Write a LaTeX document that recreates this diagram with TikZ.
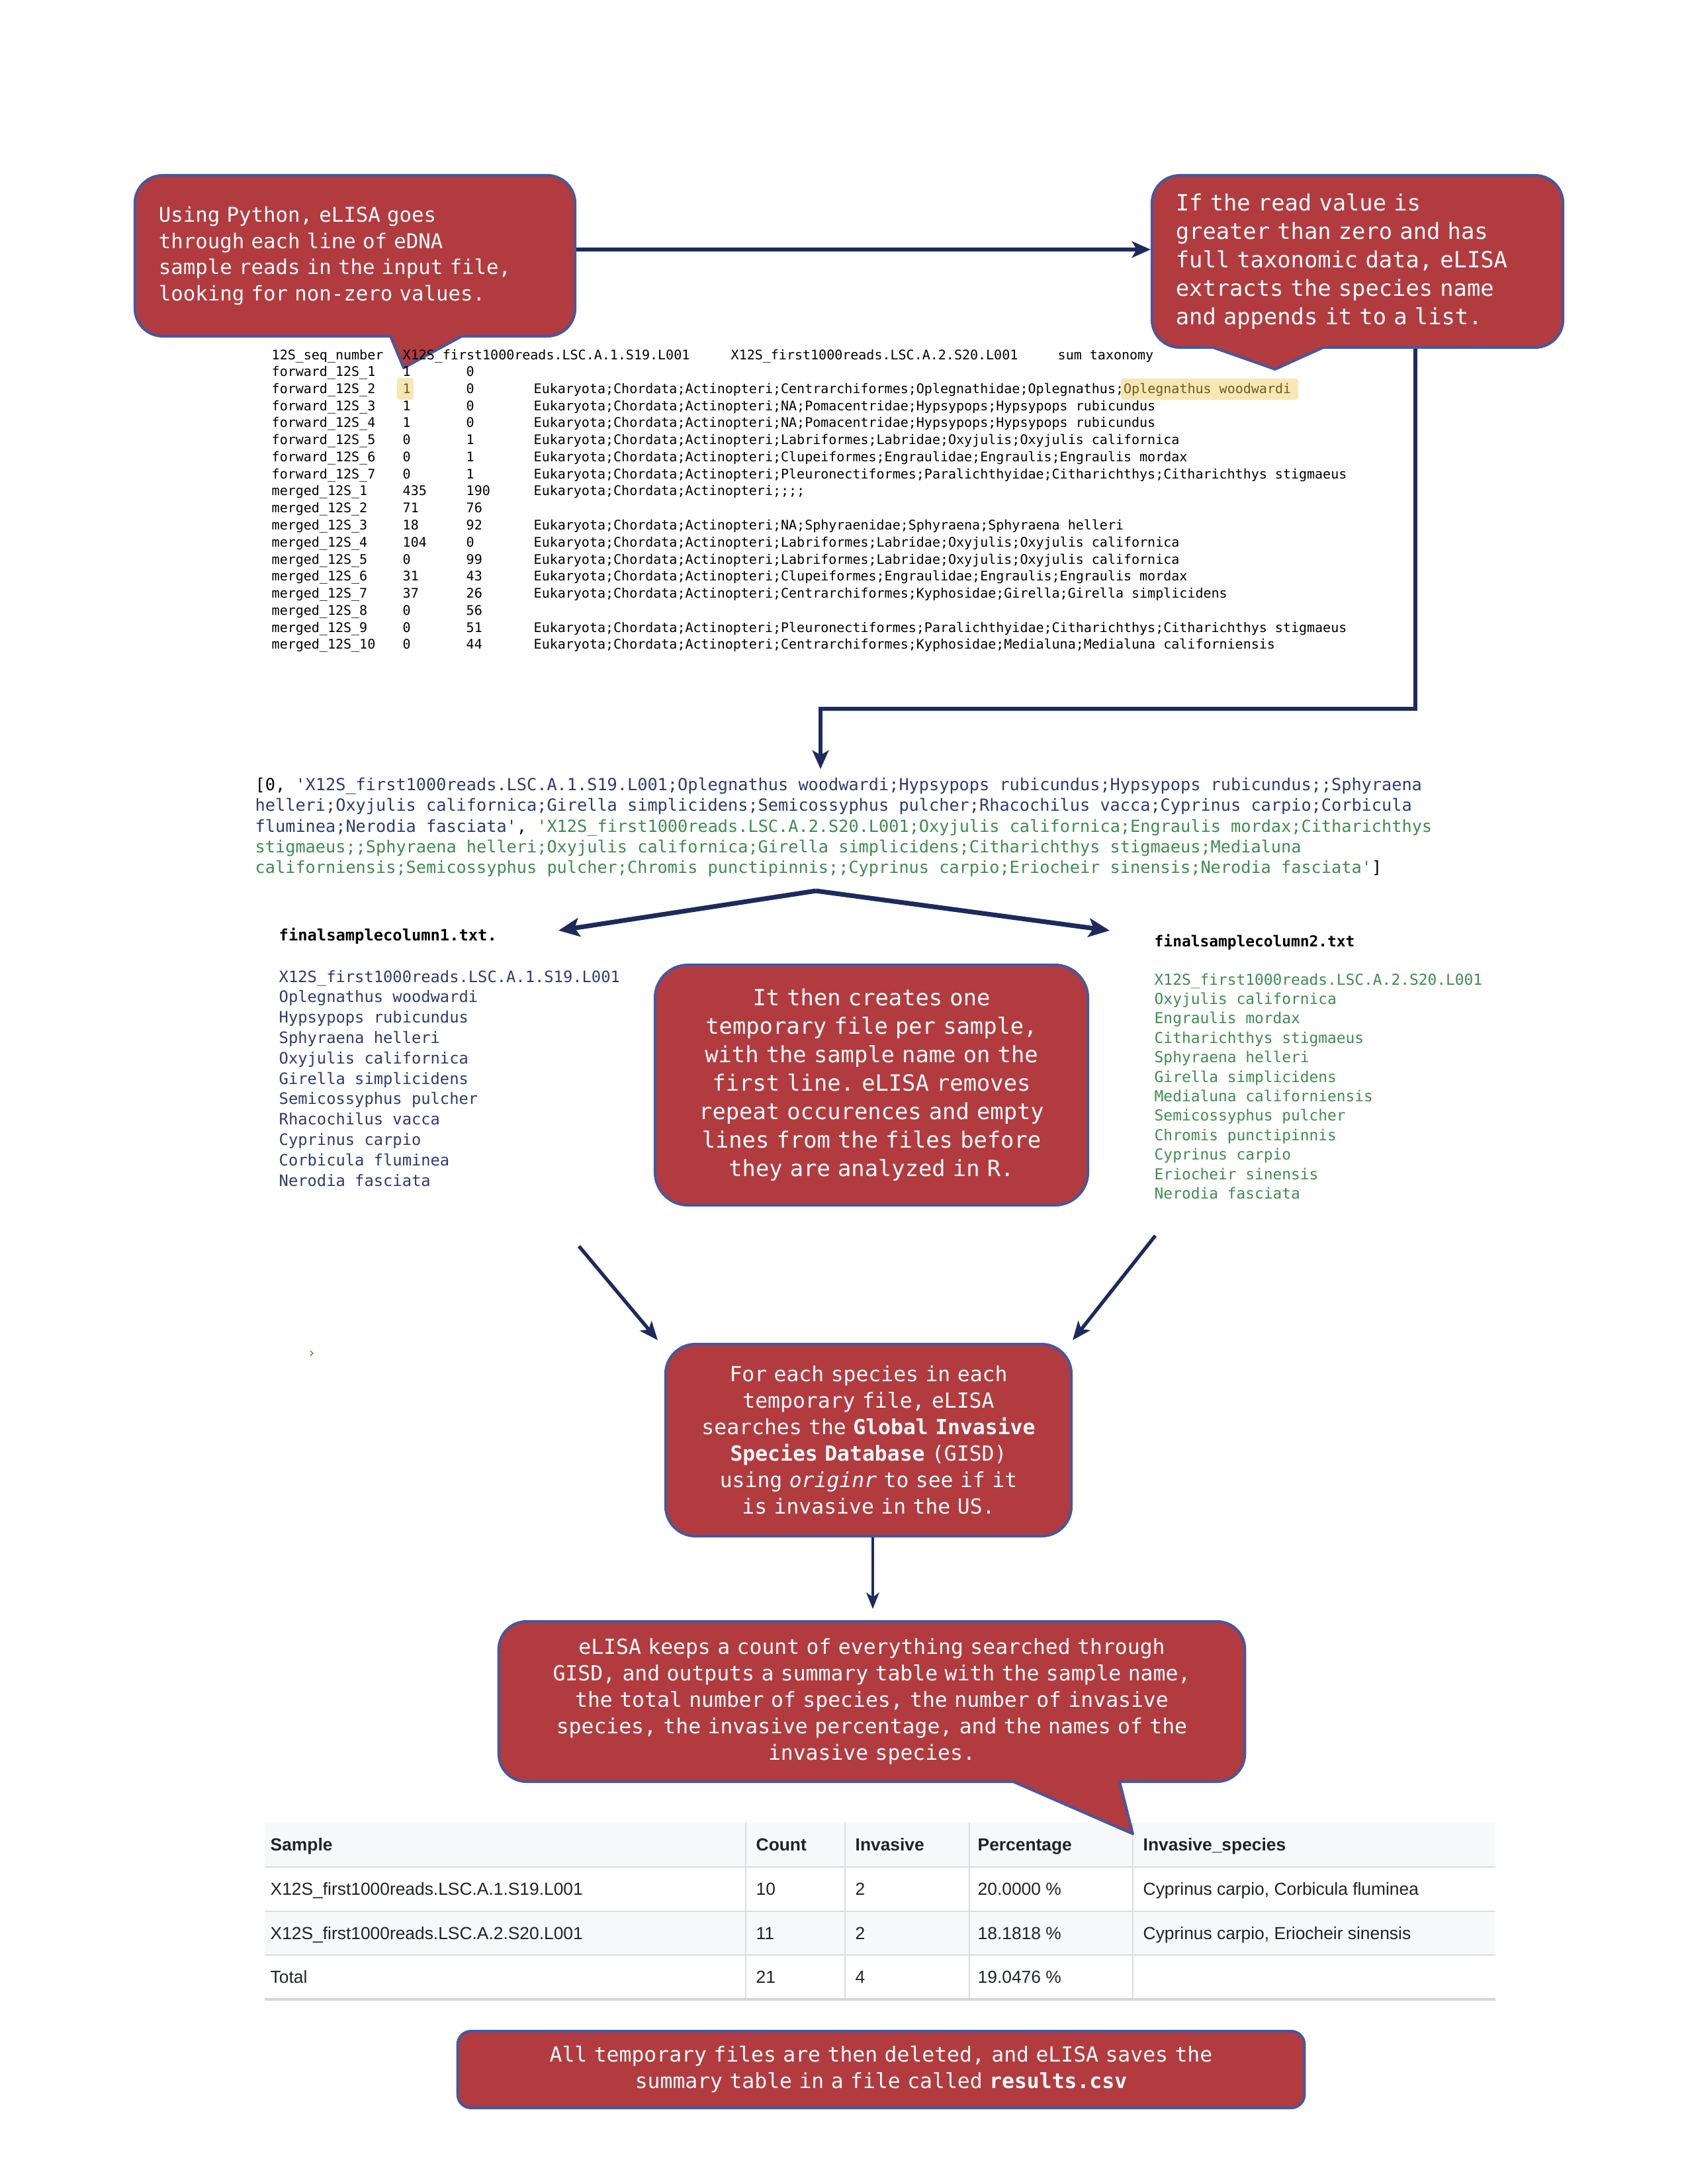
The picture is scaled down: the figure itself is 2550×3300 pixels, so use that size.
\documentclass[tikz,border=0pt]{standalone}
\usepackage{fontspec}
\setmainfont{Liberation Sans}
\newfontfamily\cmono{DejaVu Sans Mono}
\usetikzlibrary{arrows.meta}
\frenchspacing
\font\sqfont="DejaVu Sans Mono" at 7.18pt
\newcommand\sq{{\sqfont\char39}}
\definecolor{cfill}{HTML}{B23B3F}
\definecolor{cborder}{HTML}{4458A0}
\definecolor{connc}{HTML}{1C2A5E}
\definecolor{navytxt}{HTML}{2E3B6F}
\definecolor{greentxt}{HTML}{3E8C50}
\definecolor{hlfill}{HTML}{F8E7B5}
\definecolor{hltxt}{HTML}{6F5A1C}
\definecolor{tblbg}{HTML}{F6F8FA}
\definecolor{tblline}{HTML}{D8DEE4}
\definecolor{tblbot}{HTML}{D0D7DE}
\definecolor{tbltxt}{HTML}{1F2328}
\tikzset{
  callout/.style={fill=cfill, draw=cborder, line width=1.1pt, text=white, inner sep=0pt},
  tailside/.style={draw=cborder, line width=1.1pt, line join=round},
  conn/.style={draw=connc, line width=1.7pt, -{Stealth[length=8pt,width=7pt,inset=2pt]}},
  rawtxt/.style={font=\cmono\fontsize{5.69}{6.8}\selectfont, anchor=base west, inner sep=0pt},
  lsttxt/.style={font=\cmono\fontsize{7.18}{8.9}\selectfont, anchor=base west, inner sep=0pt},
  fileone/.style={font=\cmono\fontsize{6.76}{8}\selectfont, anchor=base west, inner sep=0pt},
  filetwo/.style={font=\cmono\fontsize{6.5}{8}\selectfont, anchor=base west, inner sep=0pt},
  tcell/.style={font=\normalfont\fontsize{7.5}{9}\selectfont, text=tbltxt, anchor=base west, inner sep=0pt},
  thead/.style={tcell, font=\normalfont\bfseries\fontsize{7.5}{9}\selectfont},
}
\begin{document}
\begin{tikzpicture}[x=0.01cm,y=-0.01cm]
\fill[white] (0,0) rectangle (2550,3300);
\useasboundingbox (0,0) rectangle (2550,3300);

% ---------- callout 1 ----------
\node[callout, rounded corners=0.42cm, minimum width=6.65cm, minimum height=2.43cm,
      text width=5.93cm, align=left, font=\cmono\fontsize{8.74}{11.27}\selectfont]
  (b1) at (536.5,386.5)
  {Using Python, eLISA goes\\through each line of eDNA\\sample reads in the input file,\\looking for non-zero values.};
\fill[cfill] (586.7,500) -- (712.7,500) -- (610,556) -- cycle;
\draw[tailside] (590,508) -- (610,556) -- (698,508);

% ---------- callout 2 ----------
\node[callout, rounded corners=0.42cm, minimum width=6.21cm, minimum height=2.60cm,
      text width=5.49cm, align=left, font=\cmono\fontsize{9.6}{12.24}\selectfont]
  (b2) at (2051.5,395)
  {If the read value is\\greater than zero and has\\full taxonomic data, eLISA\\extracts the species name\\and appends it to a list.};
\fill[cfill] (1810,517) -- (2018,517) -- (1927,558) -- cycle;
\draw[tailside] (1833,525) -- (1927,558) -- (2000,525);

% ---------- highlights in input table ----------
\fill[hlfill, rounded corners=0.04cm] (600,571) rectangle (625,604);
\fill[hlfill, rounded corners=0.04cm] (1694,572) rectangle (1962,604);

% ---------- input table ----------
\node[rawtxt] (h0) at (410,543) {12S\_seq\_number};
\node[rawtxt] (h1) at (608,543) {X12S\_first1000reads.LSC.A.1.S19.L001};
\node[rawtxt] (h2) at (1104,543) {X12S\_first1000reads.LSC.A.2.S20.L001};
\node[rawtxt] (h3) at (1598,543) {sum taxonomy};
\foreach \nm/\va/\vb/\tx [count=\i] in {
  forward\_12S\_1/1/0/{},
  forward\_12S\_2/{}/0/{},
  forward\_12S\_3/1/0/Eukaryota;Chordata;Actinopteri;NA;Pomacentridae;Hypsypops;Hypsypops rubicundus,
  forward\_12S\_4/1/0/Eukaryota;Chordata;Actinopteri;NA;Pomacentridae;Hypsypops;Hypsypops rubicundus,
  forward\_12S\_5/0/1/Eukaryota;Chordata;Actinopteri;Labriformes;Labridae;Oxyjulis;Oxyjulis californica,
  forward\_12S\_6/0/1/Eukaryota;Chordata;Actinopteri;Clupeiformes;Engraulidae;Engraulis;Engraulis mordax,
  forward\_12S\_7/0/1/Eukaryota;Chordata;Actinopteri;Pleuronectiformes;Paralichthyidae;Citharichthys;Citharichthys stigmaeus,
  merged\_12S\_1/435/190/Eukaryota;Chordata;Actinopteri;;;;,
  merged\_12S\_2/71/76/{},
  merged\_12S\_3/18/92/Eukaryota;Chordata;Actinopteri;NA;Sphyraenidae;Sphyraena;Sphyraena helleri,
  merged\_12S\_4/104/0/Eukaryota;Chordata;Actinopteri;Labriformes;Labridae;Oxyjulis;Oxyjulis californica,
  merged\_12S\_5/0/99/Eukaryota;Chordata;Actinopteri;Labriformes;Labridae;Oxyjulis;Oxyjulis californica,
  merged\_12S\_6/31/43/Eukaryota;Chordata;Actinopteri;Clupeiformes;Engraulidae;Engraulis;Engraulis mordax,
  merged\_12S\_7/37/26/Eukaryota;Chordata;Actinopteri;Centrarchiformes;Kyphosidae;Girella;Girella simplicidens,
  merged\_12S\_8/0/56/{},
  merged\_12S\_9/0/51/Eukaryota;Chordata;Actinopteri;Pleuronectiformes;Paralichthyidae;Citharichthys;Citharichthys stigmaeus,
  merged\_12S\_10/0/44/Eukaryota;Chordata;Actinopteri;Centrarchiformes;Kyphosidae;Medialuna;Medialuna californiensis}{
  \node[rawtxt] (rn\i) at (410,{568.5+(\i-1)*25.78}) {\nm};
  \node[rawtxt] (ra\i) at (608,{568.5+(\i-1)*25.78}) {\va};
  \node[rawtxt] (rb\i) at (704,{568.5+(\i-1)*25.78}) {\vb};
  \node[rawtxt] (rt\i) at (806,{568.5+(\i-1)*25.78}) {\tx};
}
\node[rawtxt, text=hltxt] (hl1) at (608,594.3) {1};
\node[rawtxt] (rt2x) at (806,594.3) {Eukaryota;Chordata;Actinopteri;Centrarchiformes;Oplegnathidae;Oplegnathus;\textcolor{hltxt}{Oplegnathus woodwardi}};

% ---------- arrows top ----------
\coordinate (y1) at (0,377);
\draw[conn] (b1.east |- y1) -- (b2.west |- y1);
\coordinate (px) at (2139,0);
\coordinate (lt) at (1240,1162);
\draw[conn] (b2.south -| px) -- (2139,1071) -- (1240,1071) -- (lt);

% ---------- list output ----------
\node[lsttxt] (l1) at (385,1194.5) {[0, \textcolor{navytxt}{\sq X12S\_first1000reads.LSC.A.1.S19.L001;Oplegnathus woodwardi;Hypsypops rubicundus;Hypsypops rubicundus;;Sphyraena}};
\node[lsttxt, text=navytxt] (l2) at (385,1225.75) {helleri;Oxyjulis californica;Girella simplicidens;Semicossyphus pulcher;Rhacochilus vacca;Cyprinus carpio;Corbicula};
\node[lsttxt] (l3) at (385,1257) {\textcolor{navytxt}{fluminea;Nerodia fasciata\sq}, \textcolor{greentxt}{\sq X12S\_first1000reads.LSC.A.2.S20.L001;Oxyjulis californica;Engraulis mordax;Citharichthys}};
\node[lsttxt, text=greentxt] (l4) at (385,1288.25) {stigmaeus;;Sphyraena helleri;Oxyjulis californica;Girella simplicidens;Citharichthys stigmaeus;Medialuna};
\node[lsttxt] (l5) at (385,1319.5) {\textcolor{greentxt}{californiensis;Semicossyphus pulcher;Chromis punctipinnis;;Cyprinus carpio;Eriocheir sinensis;Nerodia fasciata\sq}]};

% ---------- split arrows ----------
\coordinate (apex) at (1233,1346);
\coordinate (s1) at (844,1406);
\coordinate (s2) at (1677,1406);
\draw[conn, line width=2pt, -{Stealth[length=9pt,width=8pt,inset=2pt]}] (apex) -- (s1);
\draw[conn, line width=2pt, -{Stealth[length=9pt,width=8pt,inset=2pt]}] (apex) -- (s2);

% ---------- file lists ----------
\node[fileone, font=\cmono\bfseries\fontsize{6.76}{8}\selectfont] (fl1) at (421,1421) {finalsamplecolumn1.txt.};
\foreach \s [count=\i] in {X12S\_first1000reads.LSC.A.1.S19.L001, Oplegnathus woodwardi, Hypsypops rubicundus, Sphyraena helleri, Oxyjulis californica, Girella simplicidens, Semicossyphus pulcher, Rhacochilus vacca, Cyprinus carpio, Corbicula fluminea, Nerodia fasciata}{
  \node[fileone, text=navytxt] (fa\i) at (421,{1484+(\i-1)*30.8}) {\s};
}
\node[filetwo, font=\cmono\bfseries\fontsize{6.5}{8}\selectfont] (fl2) at (1744,1430) {finalsamplecolumn2.txt};
\foreach \s [count=\i] in {X12S\_first1000reads.LSC.A.2.S20.L001, Oxyjulis californica, Engraulis mordax, Citharichthys stigmaeus, Sphyraena helleri, Girella simplicidens, Medialuna californiensis, Semicossyphus pulcher, Chromis punctipinnis, Cyprinus carpio, Eriocheir sinensis, Nerodia fasciata}{
  \node[filetwo, text=greentxt] (fb\i) at (1744,{1488+(\i-1)*29.4}) {\s};
}

% ---------- callout 3 ----------
\node[callout, rounded corners=0.5cm, minimum width=6.54cm, minimum height=3.63cm,
      text width=6.0cm, align=center, font=\cmono\fontsize{9.6}{12.24}\selectfont]
  (b3) at (1317,1639.5)
  {It then creates one\\temporary file per sample,\\with the sample name on the\\first line. eLISA removes\\repeat occurences and empty\\lines from the files before\\they are analyzed in R.};

% ---------- callout 4 ----------
\node[callout, rounded corners=0.45cm, minimum width=6.13cm, minimum height=2.90cm,
      text width=5.8cm, align=center, font=\cmono\fontsize{8.93}{11.38}\selectfont]
  (b4) at (1312.5,2176)
  {For each species in each\\temporary file, eLISA\\searches the \textbf{Global Invasive}\\\textbf{Species Database} (GISD)\\using \textit{originr} to see if it\\is invasive in the US.};

\coordinate (d1) at (875,1883);
\coordinate (e1) at (994,2025);
\coordinate (d2) at (1746,1867);
\coordinate (e2) at (1621,2025);
\draw[conn, line width=1.5pt, -{Stealth[length=8pt,width=6.5pt,inset=2pt]}] (d1) -- (e1);
\draw[conn, line width=1.5pt, -{Stealth[length=8pt,width=6.5pt,inset=2pt]}] (d2) -- (e2);

\node[font=\cmono\fontsize{6}{7}\selectfont, text=greentxt, inner sep=0pt] (gt) at (471,2046) {›};

% ---------- arrow 4 -> 5 ----------
\coordinate (c5) at (1319,2431);
\draw[conn, line width=1.2pt, -{Stealth[length=7pt,width=5.5pt,inset=2pt]}] (b4.south -| c5) -- (c5);

% ---------- results table ----------
\fill[tblbg] (400,2754) rectangle (2260,2821);
\fill[tblbg] (400,2888) rectangle (2260,2954);
\foreach \yy in {2821,2888,2954}{
  \draw[tblline, line width=0.6pt] (400,\yy) -- (2260,\yy);
}
\foreach \xx in {1127,1277,1465,1712}{
  \draw[tblline, line width=0.6pt] (\xx,2754) -- (\xx,3021);
}
\draw[tblbot, line width=1.3pt] (400,3021) -- (2260,3021);

\node[thead] (t00) at (408,2796.5) {Sample};
\node[thead] (t01) at (1142,2796.5) {Count};
\node[thead] (t02) at (1292,2796.5) {Invasive};
\node[thead] (t03) at (1477,2796.5) {Percentage};
\node[thead] (t04) at (1727,2796.5) {Invasive\_species};

\node[tcell] (t10) at (408,2863.5) {X12S\_first1000reads.LSC.A.1.S19.L001};
\node[tcell] (t11) at (1142,2863.5) {10};
\node[tcell] (t12) at (1292,2863.5) {2};
\node[tcell] (t13) at (1477,2863.5) {20.0000 \%};
\node[tcell] (t14) at (1727,2863.5) {Cyprinus carpio, Corbicula fluminea};

\node[tcell] (t20) at (408,2930.5) {X12S\_first1000reads.LSC.A.2.S20.L001};
\node[tcell] (t21) at (1142,2930.5) {11};
\node[tcell] (t22) at (1292,2930.5) {2};
\node[tcell] (t23) at (1477,2930.5) {18.1818 \%};
\node[tcell] (t24) at (1727,2930.5) {Cyprinus carpio, Eriocheir sinensis};

\node[tcell] (t30) at (408,2996.5) {Total};
\node[tcell] (t31) at (1142,2996.5) {21};
\node[tcell] (t32) at (1292,2996.5) {4};
\node[tcell] (t33) at (1477,2996.5) {19.0476 \%};

% ---------- callout 5 ----------
\node[callout, rounded corners=0.42cm, minimum width=11.27cm, minimum height=2.42cm,
      text width=10.9cm, align=center, font=\cmono\fontsize{8.93}{11.38}\selectfont]
  (b5) at (1317.5,2571)
  {eLISA keeps a count of everything searched through\\GISD, and outputs a summary table with the sample name,\\the total number of species, the number of invasive\\species, the invasive percentage, and the names of the\\invasive species.};
\fill[cfill] (1512.7,2684) -- (1690,2684) -- (1712,2771) -- cycle;
\draw[tailside] (1531,2692) -- (1712,2771) -- (1692,2692);

% ---------- callout 6 ----------
\node[callout, rounded corners=0.2cm, minimum width=12.79cm, minimum height=1.16cm,
      text width=12.3cm, align=center, font=\cmono\fontsize{8.93}{11.38}\selectfont]
  (b6) at (1331.5,3127)
  {All temporary files are then deleted, and eLISA saves the\\summary table in a file called \textbf{results.csv}};

\end{tikzpicture}
\end{document}
